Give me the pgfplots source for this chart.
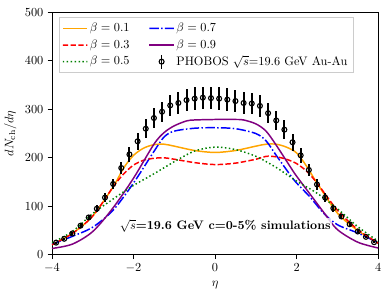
\documentclass[border=0pt]{standalone}
\usepackage{pgfplots}
\pgfplotsset{compat=1.18}
\definecolor{mporange}{HTML}{FFA500}
\definecolor{mpred}{HTML}{FF0000}
\definecolor{mpgreen}{HTML}{008000}
\definecolor{mpblue}{HTML}{0000FF}
\definecolor{mppurple}{HTML}{800080}
\tikzset{
  mpdashed/.style={dash pattern=on 4.4pt off 1.9pt},
  mpdashdot/.style={dash pattern=on 7.7pt off 1.9pt on 1.2pt off 1.9pt},
  mpdotted/.style={dash pattern=on 1.2pt off 2pt},
}
\begin{document}
\begin{tikzpicture}
\begin{axis}[
  scale only axis,
  width=265pt, height=197pt,
  xmin=-4, xmax=4, ymin=0, ymax=500,
  xtick={-4,-2,0,2,4}, ytick={0,100,200,300,400,500},
  tick align=outside, xtick pos=left, ytick pos=left,
  major tick length=3.5pt,
  tick style={black, line width=0.6pt},
  axis line style={line width=0.6pt},
  xlabel={$\eta$}, ylabel={$dN_{\mathrm{ch}}/d\eta$},
  legend columns=2,
  legend cell align=left,
  legend style={at={(0.021,0.979)}, anchor=north west, draw=black!20,
    fill=white, font=\normalsize, nodes={minimum height=13.5pt},
    /tikz/every even column/.append style={column sep=14pt}},
  every axis plot/.append style={line width=1.2pt, line cap=butt},
]
% beta = 0.1
\addplot[mporange, smooth,
  legend image code/.code={\path[draw=none, fill=mporange] (0pt,-0.6pt) rectangle (20pt,0.6pt);}] coordinates {
(-4,21) (-3.5,44) (-3,80) (-2.5,140) (-2.25,178) (-2,205) (-1.75,220) (-1.5,227) (-1.25,228) (-1,224) (-0.5,215) (0,211) (0.5,215) (1,224) (1.25,228) (1.5,228) (1.75,222) (2,210) (2.25,182) (2.5,148) (3,86) (3.5,50) (4,24)};
\addlegendentry{$\beta=0.1$}
% beta = 0.7
\addplot[mpblue, mpdashdot, smooth,
  legend image code/.code={\path[draw=none, fill=mpblue] (0pt,-0.6pt) rectangle (7.7pt,0.6pt) (9.6pt,-0.6pt) rectangle (10.8pt,0.6pt) (12.7pt,-0.6pt) rectangle (20pt,0.6pt);}] coordinates {
(-4,22) (-3.5,38) (-3,57) (-2.5,92) (-2,148) (-1.5,213) (-1.25,243) (-1,255) (-0.5,261) (0,262) (0.5,260) (1,250) (1.25,235) (1.5,205) (1.84,165) (2,148) (2.33,119) (2.66,86) (3,62) (3.5,45) (4,25)};
\addlegendentry{$\beta=0.7$}
% beta = 0.3
\addplot[mpred, mpdashed, smooth,
  legend image code/.code={\path[draw=none, fill=mpred] (0pt,-0.6pt) rectangle (4.4pt,0.6pt) (6.3pt,-0.6pt) rectangle (10.7pt,0.6pt) (12.6pt,-0.6pt) rectangle (17pt,0.6pt) (18.9pt,-0.6pt) rectangle (20pt,0.6pt);}] coordinates {
(-4,21) (-3.5,44) (-3,80) (-2.5,140) (-2.25,166) (-2,185) (-1.75,195) (-1.5,199) (-1.25,200) (-1,197) (-0.5,190) (0,186) (0.5,189) (1,197) (1.25,203) (1.5,202) (1.75,197) (2,188) (2.25,172) (2.5,148) (3,92) (3.5,52) (4,24)};
\addlegendentry{$\beta=0.3$}
% beta = 0.9
\addplot[mppurple, smooth,
  legend image code/.code={\path[draw=none, fill=mppurple] (0pt,-0.6pt) rectangle (20pt,0.6pt);}] coordinates {
(-4,13) (-3.5,22) (-3,48) (-2.5,97) (-2,158) (-1.5,228) (-1.25,252) (-1,266) (-0.7,276) (-0.5,278) (0,279) (0.5,279) (0.7,278) (1,270) (1.25,255) (1.5,226) (1.84,182) (2,162) (2.33,125) (2.66,88) (3,52) (3.5,26) (4,14)};
\addlegendentry{$\beta=0.9$}
% beta = 0.5
\addplot[mpgreen, mpdotted, smooth,
  legend image code/.code={\path[draw=none, fill=mpgreen] (0pt,-0.6pt) rectangle (1.2pt,0.6pt) (3.2pt,-0.6pt) rectangle (4.4pt,0.6pt) (6.4pt,-0.6pt) rectangle (7.6pt,0.6pt) (9.6pt,-0.6pt) rectangle (10.8pt,0.6pt) (12.8pt,-0.6pt) rectangle (14pt,0.6pt) (16pt,-0.6pt) rectangle (17.2pt,0.6pt) (19.2pt,-0.6pt) rectangle (20pt,0.6pt);}] coordinates {
(-4,25) (-3.5,48) (-3,85) (-2.5,115) (-2,143) (-1.5,167) (-1,192) (-0.5,214) (0,222) (0.5,217) (1,203) (1.5,180) (2,152) (2.5,127) (3,95) (3.5,58) (4,28)};
\addlegendentry{$\beta=0.5$}
% PHOBOS data
\addplot[black, only marks, mark=o, mark size=2pt, mark options={line width=0.9pt},
  legend image code/.code={
    \path[draw=none, fill=black] (9.3pt,-5.7pt) rectangle (10.7pt,5.7pt);
    \draw[black, line width=0.9pt, fill=none] (10pt,0pt) circle (2pt);},
  error bars/.cd, y dir=both, y explicit, error bar style={line width=1.6pt}, error mark=none]
  coordinates {
(-3.9,25) +- (0,2)
(-3.7,33) +- (0,2.5)
(-3.5,44) +- (0,3)
(-3.3,60) +- (0,4)
(-3.1,77) +- (0,5.5)
(-2.9,95) +- (0,7)
(-2.7,118) +- (0,9)
(-2.5,146) +- (0,11)
(-2.3,179) +- (0,13)
(-2.1,207) +- (0,15)
(-1.9,234) +- (0,17)
(-1.7,260) +- (0,19)
(-1.5,282) +- (0,20)
(-1.3,295) +- (0,21)
(-1.1,308) +- (0,22)
(-0.9,313) +- (0,22)
(-0.7,319) +- (0,23)
(-0.5,322) +- (0,23)
(-0.3,324) +- (0,23)
(-0.1,323) +- (0,23)
(0.1,322) +- (0,23)
(0.3,320) +- (0,23)
(0.5,317) +- (0,23)
(0.7,313) +- (0,22)
(0.9,312) +- (0,22)
(1.1,307) +- (0,22)
(1.3,292) +- (0,21)
(1.5,277) +- (0,20)
(1.7,258) +- (0,19)
(1.9,232) +- (0,17)
(2.1,205) +- (0,15)
(2.3,175) +- (0,13)
(2.5,145) +- (0,11)
(2.7,118) +- (0,9)
(2.9,96) +- (0,7)
(3.1,79) +- (0,5.5)
(3.3,63) +- (0,4)
(3.5,48) +- (0,3)
(3.7,37) +- (0,2.5)
(3.9,26) +- (0,2)
};
\addlegendentry{PHOBOS $\sqrt{s}$=19.6 GeV Au-Au}
\node[fill=white, fill opacity=0.8, text opacity=1, inner sep=1pt] at (axis cs:0.25,60)
  {\textbf{$\sqrt{s}$=19.6 GeV c=0-5\% simulations}};
\end{axis}
\path (current axis.south west) ++(-42pt,-35pt) coordinate (bl);
\path (current axis.north east) ++(8pt,10pt) coordinate (tr);
\path (bl) rectangle (tr);
\end{tikzpicture}
\end{document}
